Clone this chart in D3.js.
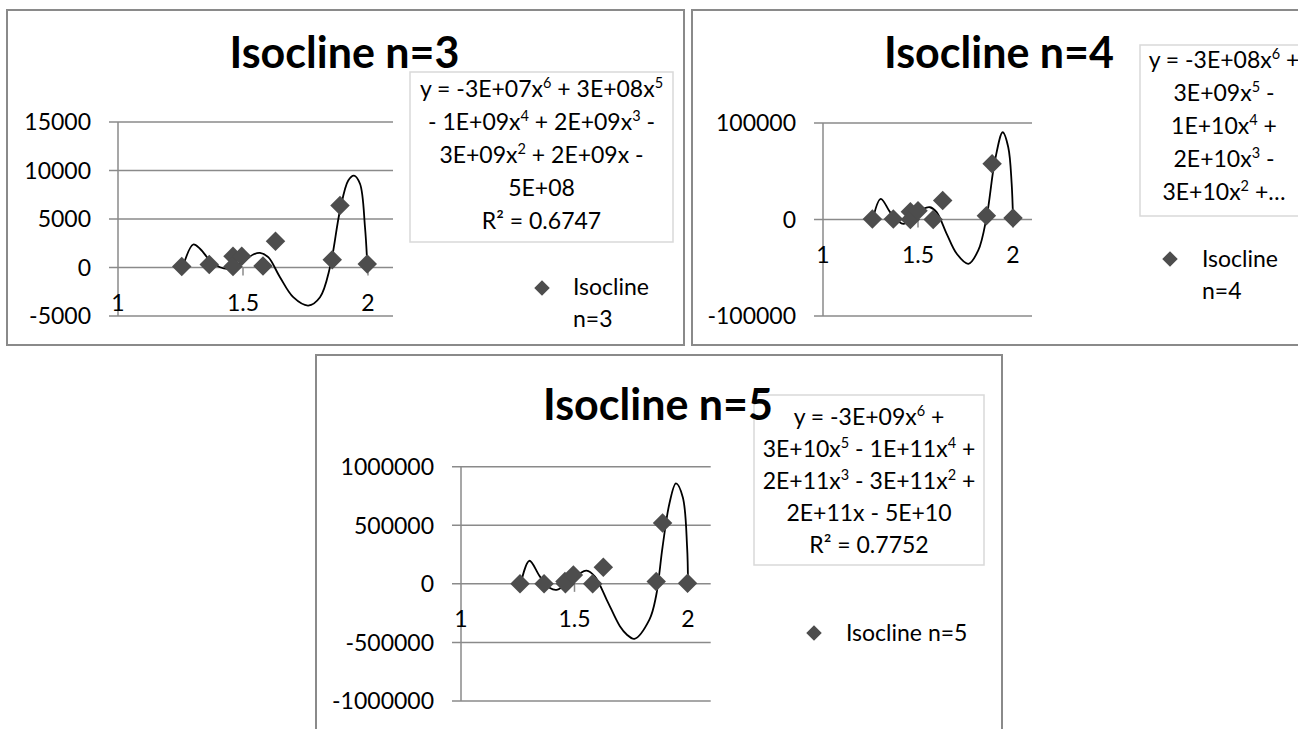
<!DOCTYPE html>
<html>
<head>
<meta charset="utf-8">
<script src="https://cdn.jsdelivr.net/npm/d3@7"></script>
<style>
  body { margin: 0; background: #fff; }
  svg { display: block; font-family: Lato, "Open Sans", sans-serif; }
</style>
</head>
<body>
<svg id="sheet" width="1298" height="729"></svg>
<script>
// ---- data ----
const xTicks = [1, 1.5, 2]

const n3X = [1.255, 1.365, 1.46, 1.46, 1.495, 1.58, 1.63, 1.857, 1.888, 1.997]
const n3Y = [100, 300, 1150, 100, 1150, 150, 2700, 800, 6400, 350]
const n3TrendX = [1.259, 1.301, 1.328, 1.368, 1.408, 1.441, 1.488, 1.541, 1.568, 1.601, 1.648, 1.701, 1.761, 1.808, 1.848, 1.888, 1.921, 1.944, 1.968, 1.988, 1.997]
const n3TrendY = [30, 2370, 1930, 720, 30, -140, 380, 1340, 1510, 1060, -1000, -3060, -3920, -3060, 30, 5880, 8970, 9480, 8630, 4150, 380]
const n3YTicks = [-5000, 0, 5000, 10000, 15000]
const n3Eq = ['y = -3E+07x^6 + 3E+08x^5', '- 1E+09x^4 + 2E+09x^3 -', '3E+09x^2 + 2E+09x -', '5E+08', 'R² = 0.6747']
const n3Legend = ['Isocline', 'n=3']

const n4X = [1.26, 1.37, 1.46, 1.46, 1.5, 1.58, 1.63, 1.86, 1.89, 2.0]
const n4Y = [500, 500, 8000, 0, 9000, 0, 19700, 4000, 57700, 1500]
const n4TrendX = [1.262, 1.304, 1.353, 1.396, 1.423, 1.475, 1.528, 1.563, 1.598, 1.651, 1.704, 1.765, 1.817, 1.861, 1.905, 1.946, 1.975, 1.993, 2.0]
const n4TrendY = [0, 21400, 7600, -1700, -4500, 2400, 11000, 12700, 7600, -14800, -35500, -45900, -32100, 2400, 61100, 90400, 74900, 37000, 700]
const n4YTicks = [-100000, 0, 100000]
const n4Eq = ['y = -3E+08x^6 +', '3E+09x^5 -', '1E+10x^4 +', '2E+10x^3 -', '3E+10x^2 +…']
const n4Legend = ['Isocline', 'n=4']

const n5X = [1.26, 1.366, 1.458, 1.46, 1.495, 1.58, 1.627, 1.86, 1.888, 1.998]
const n5Y = [0, 0, 20000, 0, 76000, 0, 141000, 20000, 520000, 5000]
const n5TrendX = [1.263, 1.301, 1.348, 1.392, 1.421, 1.473, 1.524, 1.553, 1.59, 1.642, 1.7, 1.73, 1.764, 1.83, 1.859, 1.888, 1.918, 1.947, 1.977, 1.996, 2.0]
const n5TrendY = [0, 197000, 62000, -36000, -51000, 6000, 90000, 113000, 62000, -136000, -362000, -432000, -469000, -305000, -108000, 316000, 684000, 858000, 740000, 316000, 6000]
const n5YTicks = [-1000000, -500000, 0, 500000, 1000000]
const n5Eq = ['y = -3E+09x^6 +', '3E+10x^5 - 1E+11x^4 +', '2E+11x^3 - 3E+11x^2 +', '2E+11x - 5E+10', 'R² = 0.7752']
const n5Legend = ['Isocline n=5']

// ---- drawing ----
const svg = d3.select('#sheet')
const gridColour = '#8a8a8a'
const markColour = '#4d4d4d'
const fs = 23

function drawChart(o) {
  const g = svg.append('g')

  // chart frame
  g.append('rect')
    .attr('x', o.frame[0]).attr('y', o.frame[1])
    .attr('width', o.frame[2]).attr('height', o.frame[3])
    .attr('fill', '#fff').attr('stroke', gridColour).attr('stroke-width', 2)

  const x = d3.scaleLinear().domain([1, 2.1]).range([o.plot.left, o.plot.right])
  const y = d3.scaleLinear().domain(o.yDomain).range([o.plot.bottom, o.plot.top])

  // horizontal gridlines with left tick stubs
  g.selectAll('.grid').data(o.yTicks).join('line')
    .attr('x1', o.plot.left - 9).attr('x2', o.plot.right)
    .attr('y1', d => y(d)).attr('y2', d => y(d))
    .attr('stroke', gridColour).attr('stroke-width', 1.5)

  // vertical axis
  g.append('line')
    .attr('x1', x(1)).attr('x2', x(1))
    .attr('y1', y(o.yDomain[0])).attr('y2', y(o.yDomain[1]))
    .attr('stroke', gridColour).attr('stroke-width', 1.5)

  // x ticks crossing at zero
  g.selectAll('.xt').data(xTicks.slice(1)).join('line')
    .attr('x1', d => x(d)).attr('x2', d => x(d))
    .attr('y1', y(0)).attr('y2', y(0) + 8)
    .attr('stroke', gridColour).attr('stroke-width', 1.5)

  // y tick labels
  g.selectAll('.yl').data(o.yTicks).join('text')
    .attr('x', o.plot.left - 27).attr('y', d => y(d))
    .attr('dy', '0.36em')
    .attr('text-anchor', 'end')
    .attr('font-size', fs).attr('fill', '#000')
    .text(d => d)

  // x tick labels
  g.selectAll('.xl').data(xTicks).join('text')
    .attr('x', d => x(d)).attr('y', y(0) + 43)
    .attr('text-anchor', 'middle')
    .attr('font-size', fs).attr('fill', '#000')
    .text(d => d)

  // trendline
  const pts = o.trendX.map((d, i) => [d, o.trendY[i]])
  g.append('path')
    .attr('d', d3.line().x(d => x(d[0])).y(d => y(d[1])).curve(d3.curveCatmullRom.alpha(0.5))(pts))
    .attr('fill', 'none').attr('stroke', '#000').attr('stroke-width', 1.8)

  // markers
  const diamond = d3.symbol(d3.symbolSquare, 190)
  g.selectAll('.pt').data(o.xs.map((d, i) => [d, o.ys[i]])).join('path')
    .attr('d', diamond)
    .attr('transform', d => `translate(${x(d[0])},${y(d[1])}) rotate(45)`)
    .attr('fill', markColour)

  // equation box
  g.append('rect')
    .attr('x', o.box[0]).attr('y', o.box[1])
    .attr('width', o.box[2]).attr('height', o.box[3])
    .attr('fill', '#fff').attr('stroke', '#d9d9d9').attr('stroke-width', 1.5)

  o.eq.forEach((line, i) => {
    const t = g.append('text')
      .attr('x', o.eqX).attr('y', o.eqY + i * o.eqStep)
      .attr('text-anchor', 'middle')
      .attr('font-size', fs).attr('fill', '#000')
    // "^d" marks a superscript digit
    let raised = false
    line.split(/\^(\d)/).forEach((part, j) => {
      if (j % 2 === 1) {
        t.append('tspan').attr('font-size', 14.5).attr('dy', -9).text(part)
        raised = true
      } else if (part.length) {
        t.append('tspan').attr('dy', raised ? 9 : null).text(part)
        raised = false
      }
    })
  })

  // title
  g.append('text')
    .attr('x', o.title[0]).attr('y', o.title[1])
    .attr('text-anchor', 'middle')
    .attr('font-size', 43).attr('font-weight', 700).attr('fill', '#000')
    .text(o.titleText)

  // legend
  g.append('path')
    .attr('d', d3.symbol(d3.symbolSquare, 120))
    .attr('transform', `translate(${o.legend[0]},${o.legend[1]}) rotate(45)`)
    .attr('fill', markColour)
  o.legendText.forEach((s, i) => {
    g.append('text')
      .attr('x', o.legend[2]).attr('y', o.legend[3] + i * 32)
      .attr('font-size', fs).attr('fill', '#000')
      .text(s)
  })
}

drawChart({
  frame: [7, 10, 677, 335],
  plot: { left: 118, right: 393, top: 122, bottom: 316 },
  yDomain: [-5000, 15000], yTicks: n3YTicks,
  xs: n3X, ys: n3Y, trendX: n3TrendX, trendY: n3TrendY,
  title: [344.5, 68], titleText: 'Isocline n=3',
  box: [410, 72, 263, 170], eq: n3Eq, eqX: 541.5, eqY: 97, eqStep: 33,
  legend: [542, 288, 573, 295], legendText: n3Legend
})

drawChart({
  frame: [692, 10, 614, 335],
  plot: { left: 823, right: 1032, top: 123, bottom: 316 },
  yDomain: [-100000, 100000], yTicks: n4YTicks,
  xs: n4X, ys: n4Y, trendX: n4TrendX, trendY: n4TrendY,
  title: [999, 68], titleText: 'Isocline n=4',
  box: [1140, 45, 170, 171], eq: n4Eq, eqX: 1224, eqY: 68, eqStep: 33,
  legend: [1170, 259, 1202, 267], legendText: n4Legend
})

drawChart({
  frame: [316, 355, 686, 400],
  plot: { left: 461, right: 710.7, top: 466.7, bottom: 701 },
  yDomain: [-1000000, 1000000], yTicks: n5YTicks,
  xs: n5X, ys: n5Y, trendX: n5TrendX, trendY: n5TrendY,
  title: [658, 420], titleText: 'Isocline n=5',
  box: [754, 395, 230, 170], eq: n5Eq, eqX: 869, eqY: 425, eqStep: 32,
  legend: [814, 633, 846, 641], legendText: n5Legend
})
</script>
</body>
</html>
